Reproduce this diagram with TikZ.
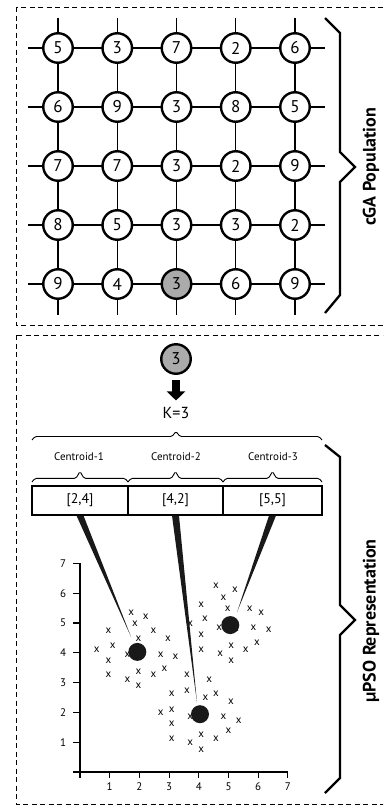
\documentclass[tikz,border=0pt]{standalone}
\usepackage{fontspec}
\setmainfont{PT Sans}
\usetikzlibrary{calc,arrows.meta}
\begin{document}
\begin{tikzpicture}[x=1pt,y=-1pt,
  cell/.style={circle, draw, line width=2.4pt, fill=white, minimum size=29.5pt, inner sep=0pt, font=\fontsize{17}{17}\selectfont},
  selcell/.style={cell, fill=black!33},
  gridline/.style={line width=1.2pt},
  dashbox/.style={dash pattern=on 5pt off 3.5pt, line width=1pt},
  bigbrace/.style={line width=2.3pt, line join=miter},
  thinbrace/.style={line width=0.9pt, rounded corners=1.5pt},
  sidelabel/.style={rotate=90, font=\bfseries\fontsize{18}{18}\selectfont, inner sep=0pt},
  cenlabel/.style={font=\fontsize{11}{11}\selectfont, inner sep=0pt},
  valbox/.style={draw, line width=1.2pt, minimum height=29pt, inner sep=0pt, font=\fontsize{14}{14}\selectfont},
  ticklabel/.style={font=\fontsize{11}{11}\selectfont, inner sep=0pt},
  pt/.style={font=\fontsize{11}{11}\selectfont, inner sep=0pt},
  dot/.style={circle, fill=black!90, minimum size=18pt, inner sep=0pt},
  wedge/.style={fill=black!90},
  axis/.style={line width=1.1pt}]
\clip (0,0) rectangle (383,806);
\fill[white] (0,0) rectangle (383,806);
% dashed frames
\draw[dashbox] (16,7) rectangle (400,325);
\draw[dashbox] (16,335) rectangle (400,804);
% grid lines
\foreach \r in {1,...,5} {
  \coordinate (hl\r) at (28,{48+59*(\r-1)});
  \coordinate (hr\r) at (325,{48+59*(\r-1)});
  \draw[gridline] (hl\r) -- (hr\r);
}
\foreach \c in {1,...,5} {
  \coordinate (vt\c) at ({58+59.25*(\c-1)},18);
  \coordinate (vb\c) at ({58+59.25*(\c-1)},315);
  \draw[gridline] (vt\c) -- (vb\c);
}
% cells
\foreach \r/\c/\v in {1/1/5,1/2/3,1/3/7,1/4/2,1/5/6,
                      2/1/6,2/2/9,2/3/3,2/4/8,2/5/5,
                      3/1/7,3/2/7,3/3/3,3/4/2,3/5/9,
                      4/1/8,4/2/5,4/3/3,4/4/3,4/5/2,
                      5/1/9,5/2/4,5/4/6,5/5/9} {
  \node[cell] (g\r\c) at ({58+59.25*(\c-1)},{48+59*(\r-1)}) {\v};
}
\node[selcell] (g53) at ({58+59.25*2},{48+59*4}) {3};
% top brace
\draw[bigbrace] (325,18) -- (340,33) -- (340,152) -- (355,167) -- (340,182) -- (340,295) -- (325,313);
\node[sidelabel] (cga) at (371,167) {cGA Population};

% lower part
\node[selcell] (sel) at (176,359) {3};
\node[font=\fontsize{16}{16}\selectfont, inner sep=0pt] (k) at (176,413) {K=3};
\draw[line width=8pt, -{Triangle[width=18pt,length=9pt]}] ($(sel.south)+(0,5)$) -- ($(sel.south)+(0,25.5)$);
% big horizontal brace
\draw[thinbrace] (32,440) -- (35,436.5) -- (172,436.5) -- (176,431.5) -- (180,436.5) -- (319,436.5) -- (322,440);
\node[cenlabel] (c1) at (79,457) {Centroid-1};
\node[cenlabel] (c2) at (176,457) {Centroid-2};
\node[cenlabel] (c3) at (273,457) {Centroid-3};
% small braces
\draw[thinbrace] (32,482) -- (35,478.3) -- (76,478.3) -- (80,471.5) -- (84,478.3) -- (125,478.3) -- (128,482);
\draw[thinbrace] (128,482) -- (131,478.3) -- (171.5,478.3) -- (175.5,471.5) -- (179.5,478.3) -- (220,478.3) -- (223,482);
\draw[thinbrace] (223,482) -- (226,478.3) -- (268.5,478.3) -- (272.5,471.5) -- (276.5,478.3) -- (319,478.3) -- (322,482);
% value boxes
\node[valbox, minimum width=96pt] (b1) at (80,500.5) {[2,4]};
\node[valbox, minimum width=95pt] (b2) at (175.5,500.5) {[4,2]};
\node[valbox, minimum width=99pt] (b3) at (272.5,500.5) {[5,5]};
% bottom brace
\draw[bigbrace] (325,445) -- (340,457) -- (340,605) -- (355,620) -- (340,635) -- (340,778) -- (325,793);
\node[sidelabel] (upso) at (371,621) {µPSO Representation};

% plot
\begin{scope}[shift={(80,772)}, x=29.7pt, y=29.8pt]
  \coordinate (o) at (0,0);
  \coordinate (xa) at (-0.24,0);
  \coordinate (xb) at (7,0);
  \coordinate (ya) at (0,-0.2);
  \coordinate (yb) at (0,7);
  \draw[axis] (xa) -- (xb);
  \draw[axis] (ya) -- (yb);
  \foreach \i in {1,...,7} {
    \draw[axis] (\i,0) -- (\i,-0.2);
    \draw[axis] (0,\i) -- (-0.24,\i);
    \node[ticklabel] (xl\i) at (\i,-0.48) {\i};
    \node[ticklabel] (yl\i) at (-0.57,\i) {\i};
  }
  \foreach \px/\py [count=\n] in {
    1.72/5.34, 2.21/5.2, 1.85/4.98, 0.96/4.74, 2.47/4.74, 1.97/4.48, 2.96/4.48,
    0.56/4.11, 1.10/4.23, 1.6/3.95, 2.72/3.95, 3.21/3.86, 0.96/3.73, 2.84/3.47,
    1.97/3.36, 0.96/3.25, 2.47/3.25, 1.6/3.1, 1.97/2.88, 2.1/3.95,
    4.58/6.24, 5.22/6.1, 4.83/5.86, 4.08/5.62, 4.97/5.49, 5.71/5.49, 6.1/5.35,
    4.21/5.13, 3.71/4.98, 4.69/4.85, 5.84/4.85, 6.35/4.76, 4.08/4.61, 4.08/4.11,
    5.09/4.23, 5.58/4.11, 5.96/4.35, 4.72/3.98, 5.09/3.73, 5.25/4.8,
    3.6/3.25, 4.35/3.1, 3.09/2.61, 3.6/2.72, 4.22/2.5, 4.58/2.61, 5.08/2.35,
    2.72/1.99, 3.09/2.1, 3.71/1.87, 4.83/1.85, 5.34/1.71, 3.09/1.62, 5.0/1.38,
    4.08/1.24, 3.09/1.12, 3.71/0.99, 4.58/1.12, 4.08/0.75, 4.2/1.85} {
    \node[pt] (p\n) at (\px,\py) {x};
  }
  \coordinate (t1) at (1.72,4.53);
  \coordinate (t2) at (3.94,2.32);
  \coordinate (t3) at (5.29,5.37);
  \fill[wedge] ($(b1.south)+(-3.5pt,0pt)$) -- ($(b1.south)+(3.5pt,0pt)$) -- (t1) -- cycle;
  \fill[wedge] ($(b2.south)+(-3.5pt,0pt)$) -- ($(b2.south)+(3.5pt,0pt)$) -- (t2) -- cycle;
  \fill[wedge] ($(b3.south)+(-3.5pt,0pt)$) -- ($(b3.south)+(3.5pt,0pt)$) -- (t3) -- cycle;
  \node[dot] (cen1) at (1.93,4.03) {};
  \node[dot] (cen2) at (4.04,1.94) {};
  \node[dot] (cen3) at (5.06,4.93) {};
\end{scope}
\end{tikzpicture}
\end{document}
